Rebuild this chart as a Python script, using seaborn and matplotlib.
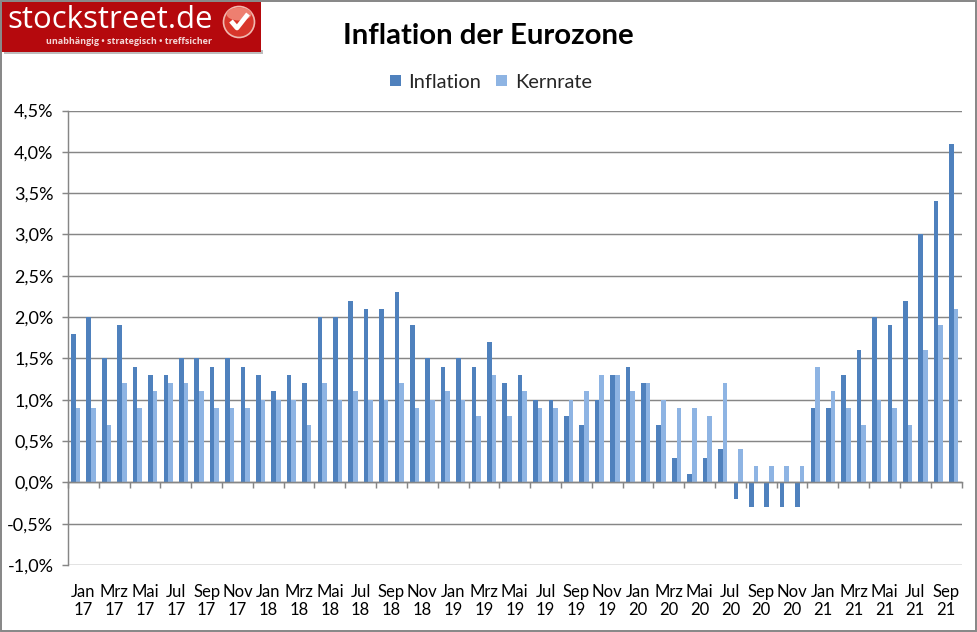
import matplotlib
matplotlib.use('Agg')
import matplotlib.pyplot as plt
from matplotlib.patches import Rectangle, Circle, Ellipse
import seaborn as sns
import pandas as pd

months = ['Jan', 'Feb', 'Mrz', 'Apr', 'Mai', 'Jun', 'Jul', 'Aug', 'Sep', 'Okt', 'Nov', 'Dez']
years = ['17', '18', '19', '20', '21']

inflation = [1.8, 2.0, 1.5, 1.9, 1.4, 1.3, 1.3, 1.5, 1.5, 1.4, 1.5, 1.4,
             1.3, 1.1, 1.3, 1.2, 2.0, 2.0, 2.2, 2.1, 2.1, 2.3, 1.9, 1.5,
             1.4, 1.5, 1.4, 1.7, 1.2, 1.3, 1.0, 1.0, 0.8, 0.7, 1.0, 1.3,
             1.4, 1.2, 0.7, 0.3, 0.1, 0.3, 0.4, -0.2, -0.3, -0.3, -0.3, -0.3,
             0.9, 0.9, 1.3, 1.6, 2.0, 1.9, 2.2, 3.0, 3.4, 4.1]
kernrate = [0.9, 0.9, 0.7, 1.2, 0.9, 1.1, 1.2, 1.2, 1.1, 0.9, 0.9, 0.9,
            1.0, 1.0, 1.0, 0.7, 1.2, 1.0, 1.1, 1.0, 1.0, 1.2, 0.9, 1.0,
            1.1, 1.0, 0.8, 1.3, 0.8, 1.1, 0.9, 0.9, 1.0, 1.1, 1.3, 1.3,
            1.1, 1.2, 1.0, 0.9, 0.9, 0.8, 1.2, 0.4, 0.2, 0.2, 0.2, 0.2,
            1.4, 1.1, 0.9, 0.7, 1.0, 0.9, 0.7, 1.6, 1.9, 2.1]

y_ticks = [-1.0, -0.5, 0.0, 0.5, 1.0, 1.5, 2.0, 2.5, 3.0, 3.5, 4.0, 4.5]
y_labels = ['-1,0%', '-0,5%', '0,0%', '0,5%', '1,0%', '1,5%', '2,0%', '2,5%', '3,0%', '3,5%', '4,0%', '4,5%']

labels = [f'{m}\n{y}' for y in years for m in months][:len(inflation)]

df = pd.DataFrame({'monat': labels * 2,
                   'wert': inflation + kernrate,
                   'reihe': ['Inflation'] * len(inflation) + ['Kernrate'] * len(kernrate)})

W, H = 977, 632
grey = '#868686'
sns.set_style('white')
plt.rcParams['font.family'] = ['Lato', 'DejaVu Sans']

fig = plt.figure(figsize=(W / 100, H / 100), dpi=100)
ax = fig.add_axes([68 / W, 1 - 565 / H, (961.5 - 68) / W, (565 - 110.5) / H])

sns.barplot(data=df, x='monat', y='wert', hue='reihe', palette=['#4F81BD', '#8EB4E3'],
            width=0.6, saturation=1, linewidth=0, edgecolor='none', ax=ax)

ax.set_xlim(-0.5, len(inflation) - 0.5)
ax.set_ylim(-1.0, 4.5)
ax.set_xlabel('')
ax.set_ylabel('')

ax.set_yticks(y_ticks)
ax.set_yticklabels(y_labels, fontsize=13, color='black')
ax.grid(axis='y', color=grey, linewidth=1.05)
ax.set_axisbelow(True)
ax.tick_params(axis='y', length=4.5, width=1.05, color=grey, left=True, pad=6)

# ticks sit between the categories, the labels in the middle of each pair of months
ax.set_xticks([i - 0.5 for i in range(0, len(inflation) + 1, 2)])
ax.set_xticklabels([])
ax.set_xticks([i + 0.5 for i in range(0, len(inflation), 2)], minor=True)
ax.set_xticklabels(labels[::2], minor=True)
ax.tick_params(axis='x', which='major', length=4.5, width=1.05, color=grey, bottom=True)
ax.tick_params(axis='x', which='minor', length=0, pad=73, labelsize=12, labelcolor='black')
plt.setp(ax.get_xticklabels(minor=True), fontsize=12, linespacing=1.4)

for side in ['top', 'right']:
    ax.spines[side].set_visible(False)
ax.spines['left'].set_color(grey)
ax.spines['left'].set_linewidth(1.05)
ax.spines['bottom'].set_color(grey)
ax.spines['bottom'].set_linewidth(1.05)
ax.spines['bottom'].set_position(('data', 0))

handles, names = ax.get_legend_handles_labels()
ax.legend(handles, names, loc='center', bbox_to_anchor=(491 / W, 1 - 82 / H),
          bbox_transform=fig.transFigure, ncol=2, frameon=False, fontsize=14.4,
          handlelength=0.52, handleheight=0.52, handletextpad=0.4, columnspacing=0.75)

# overlay in pixel coordinates for title, logo and outer frame
top = fig.add_axes([0, 0, 1, 1], zorder=5)
top.set_xlim(0, W)
top.set_ylim(H, 0)
top.axis('off')
top.patch.set_alpha(0)

top.add_patch(Rectangle((1, 1), W - 2, H - 2, fill=False, edgecolor=grey, linewidth=1.4))
top.text(488, 36, 'Inflation der Eurozone', ha='center', va='center',
         fontsize=21.2, fontweight='bold', color='black')

top.add_patch(Rectangle((4, 50), 259, 4, facecolor='#BDBDBD', edgecolor='none'))
top.add_patch(Rectangle((2, 2), 259, 50, facecolor='#B5090D', edgecolor='none'))
top.text(7, 20, 'stockstreet.de', ha='left', va='center', fontsize=22.4, color='white',
         family='Open Sans')
top.text(212, 42, 'unabhängig • strategisch • treffsicher', ha='right', va='center',
         fontsize=6.5, fontweight='bold', color='#F3D6D6', family='Open Sans')
top.add_patch(Circle((239, 22), 15.5, facecolor='#D8362B', edgecolor='#F0B9B0', linewidth=1.2))
top.add_patch(Ellipse((239, 14), 25, 13, facecolor='#EE7F70', edgecolor='none'))
top.plot([231, 237, 248], [21, 28, 14], color='white', linewidth=3.4, solid_capstyle='butt')

fig.savefig('out.png', dpi=100)
